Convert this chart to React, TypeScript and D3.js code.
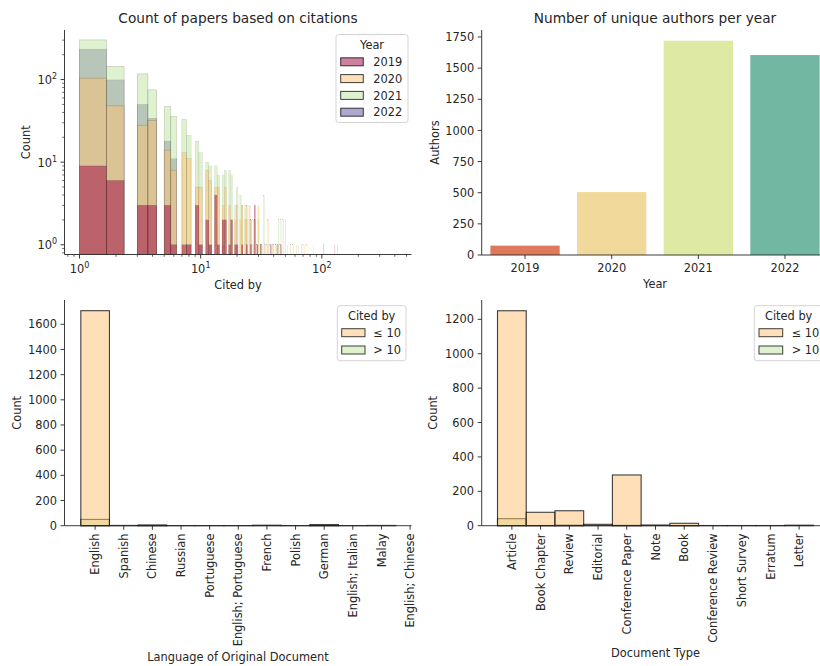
import React from 'react';
import * as d3 from 'd3';

const FONT = "'DejaVu Sans', sans-serif";
const INK = '#262626';
const TICK_FS = 11.4;
const TITLE_FS = 13.7;
const TICK_LEN = 4;
const MINOR_LEN = 2.3;

// ---------- Top-left: citations histogram (log-log) ----------
const yearLabels = ['2019', '2020', '2021', '2022'];
const yearColors = ['#9e0142', '#fdbf6f', '#bfe5a0', '#5e4fa2'];
const cites2019: [number, number][] = [
  [1, 9], [2, 6], [3, 3], [4, 3], [5, 3], [6, 1], [7, 1], [8, 1], [9, 3], [10, 1], [11, 2], [12, 1],
  [13, 4], [14, 1], [15, 2], [16, 2], [17, 1], [18, 2], [19, 1], [20, 1], [22, 1], [24, 1], [26, 1],
  [28, 3], [29, 1], [31, 1], [38, 1], [43, 1], [46, 1], [104, 1], [128, 1], [135, 1],
];
const cites2020: [number, number][] = [
  [1, 104], [2, 48], [3, 28], [4, 32], [5, 14], [6, 8], [7, 13], [8, 11], [9, 5], [10, 5], [11, 8],
  [12, 6], [13, 5], [14, 5], [15, 3], [16, 5], [17, 3], [18, 2], [19, 2], [20, 3], [21, 2], [22, 3],
  [23, 2], [24, 3], [25, 3], [26, 2], [27, 1], [28, 2], [30, 3], [32, 1], [34, 1], [36, 2], [39, 1],
  [42, 1], [45, 1], [48, 2], [50, 2], [55, 1], [62, 1], [68, 1], [72, 1], [85, 1], [130, 1],
];
const cites2021: [number, number][] = [
  [1, 302], [2, 144], [3, 117], [4, 75], [5, 47], [6, 36], [7, 33], [8, 21], [9, 18], [10, 13],
  [11, 10], [12, 9], [13, 9], [14, 7], [15, 7], [16, 8], [17, 8], [18, 7], [19, 3], [20, 5], [21, 4],
  [22, 3], [23, 3], [24, 2], [25, 2], [26, 2], [27, 2], [28, 2], [29, 1], [30, 2], [31, 1], [33, 4],
  [35, 1], [37, 1], [40, 1], [42, 1], [44, 2], [46, 2], [52, 1], [58, 1], [64, 1], [70, 1], [75, 1],
  [410, 1],
];
const cites2022: [number, number][] = [
  [1, 233], [2, 99], [3, 50], [4, 34], [5, 18], [6, 11], [8, 1], [10, 1], [12, 1], [15, 1],
];
const citesByYear = [cites2019, cites2020, cites2021, cites2022];
const BIN_START = 1;
const BIN_WIDTH = 2 / 3;

// ---------- Top-right: unique authors ----------
const authorYears = ['2019', '2020', '2021', '2022'];
const authorCounts = [75, 505, 1720, 1605];
const authorColors = ['#de7959', '#f0d99a', '#dee9a3', '#71b7a1'];
const authorTicks = [0, 250, 500, 750, 1000, 1250, 1500, 1750];

// ---------- Bottom: cited-by groups ----------
const citedGroups = ['\u2264 10', '> 10'];
const citedColors = ['#fdbf6f', '#bfe5a0'];

const languages = [
  'English', 'Spanish', 'Chinese', 'Russian', 'Portuguese', 'English; Portuguese',
  'French', 'Polish', 'German', 'English; Italian', 'Malay', 'English; Chinese',
];
const langLow = [1708, 2, 6, 1, 1, 1, 4, 1, 9, 1, 2, 0];
const langHigh = [50, 0, 1, 0, 0, 0, 0, 0, 1, 0, 0, 0];
const langTicks = [0, 200, 400, 600, 800, 1000, 1200, 1400, 1600];

const docTypes = [
  'Article', 'Book Chapter', 'Review', 'Editorial', 'Conference Paper', 'Note', 'Book',
  'Conference Review', 'Short Survey', 'Erratum', 'Letter',
];
const docLow = [1250, 78, 87, 8, 295, 4, 14, 1, 1, 1, 3];
const docHigh = [41, 1, 3, 0, 2, 0, 1, 0, 0, 0, 0];
const docTicks = [0, 200, 400, 600, 800, 1000, 1200];

function logTicks(lo: number, hi: number) {
  const major: number[] = [];
  const minor: number[] = [];
  for (let e = -1; e <= 3; e++) {
    for (let m = 1; m <= 9; m++) {
      const v = m * Math.pow(10, e);
      if (v >= lo && v <= hi) (m === 1 ? major : minor).push(v);
    }
  }
  return { major, minor };
}

function Pow10({ x, y, exp, anchor }: { x: number; y: number; exp: number; anchor: string }) {
  return (
    <text x={x} y={y} fontSize={TICK_FS} textAnchor={anchor} fill={INK}>
      10<tspan fontSize={8} dy={-5}>{exp}</tspan>
    </text>
  );
}

function Legend({ x0, x1, y0, y1, title, labels, colors, titleY, rowY0, rowStep, swX, swW, labX }: any) {
  return (
    <g>
      <rect x={x0} y={y0} width={x1 - x0} height={y1 - y0} rx={2.5} fill="#fff" fillOpacity={0.8} stroke="#d0d0d0" strokeWidth={0.9} />
      <text x={(x0 + x1) / 2} y={titleY + 4.1} textAnchor="middle" fontSize={TICK_FS} fill={INK}>{title}</text>
      {labels.map((l: string, i: number) => {
        const cy = rowY0 + i * rowStep;
        return (
          <g key={l}>
            <rect x={swX} y={cy - 4} width={swW} height={8} fill={colors[i]} fillOpacity={0.5} stroke="#000" strokeOpacity={0.75} strokeWidth={1} />
            <text x={labX} y={cy + 4.1} fontSize={TICK_FS} fill={INK}>{l}</text>
          </g>
        );
      })}
    </g>
  );
}

function TopLeft() {
  const L = 64.5, R = 411.5, T = 30, B = 254.5;
  const xDom: [number, number] = [Math.pow(10, -0.124), Math.pow(10, 2.74)];
  const yDom: [number, number] = [Math.pow(10, -0.118), Math.pow(10, 2.6)];
  const x = d3.scaleLog().domain(xDom).range([L, R]);
  const y = d3.scaleLog().domain(yDom).range([B, T]);
  const xt = logTicks(xDom[0], xDom[1]);
  const yt = logTicks(yDom[0], yDom[1]);
  const order = [3, 2, 1, 0];
  return (
    <g>
      <defs>
        <clipPath id="clipTL"><rect x={L} y={T} width={R - L} height={B - T} /></clipPath>
      </defs>
      <g clipPath="url(#clipTL)">
        {order.map((yi) => {
          const bins = new Map<number, number>();
          citesByYear[yi].forEach(([v, c]) => {
            const k = Math.floor((v - BIN_START) / BIN_WIDTH + 1e-9);
            bins.set(k, (bins.get(k) || 0) + c);
          });
          return (
            <g key={yi}>
              {Array.from(bins.entries()).map(([k, c]) => {
                const x0 = x(BIN_START + k * BIN_WIDTH);
                const x1 = x(BIN_START + (k + 1) * BIN_WIDTH);
                const yy = y(c);
                return (
                  <rect key={k} x={x0} y={yy} width={x1 - x0} height={B + 2 - yy}
                    fill={yearColors[yi]} fillOpacity={0.5}
                    stroke="#000" strokeOpacity={0.22} strokeWidth={Math.min(0.6, 0.08 * (x1 - x0))} />
                );
              })}
            </g>
          );
        })}
      </g>
      {/* spines */}
      <line x1={L} x2={L} y1={T} y2={B} stroke={INK} strokeWidth={0.9} />
      <line x1={L} x2={R} y1={B} y2={B} stroke={INK} strokeWidth={0.9} />
      {xt.minor.map((v) => <line key={'xm' + v} x1={x(v)} x2={x(v)} y1={B} y2={B + MINOR_LEN} stroke={INK} strokeWidth={0.7} />)}
      {xt.major.map((v) => (
        <g key={'xM' + v}>
          <line x1={x(v)} x2={x(v)} y1={B} y2={B + TICK_LEN} stroke={INK} strokeWidth={0.9} />
          <Pow10 x={x(v)} y={272.5} exp={Math.round(Math.log10(v))} anchor="middle" />
        </g>
      ))}
      {yt.minor.map((v) => <line key={'ym' + v} x1={L} x2={L - MINOR_LEN} y1={y(v)} y2={y(v)} stroke={INK} strokeWidth={0.7} />)}
      {yt.major.map((v) => (
        <g key={'yM' + v}>
          <line x1={L} x2={L - TICK_LEN} y1={y(v)} y2={y(v)} stroke={INK} strokeWidth={0.9} />
          <Pow10 x={L - 7.5} y={y(v) + 4.5} exp={Math.round(Math.log10(v))} anchor="end" />
        </g>
      ))}
      <text x={(L + R) / 2} y={23.2} textAnchor="middle" fontSize={TITLE_FS} fill={INK}>Count of papers based on citations</text>
      <text x={(L + R) / 2} y={289} textAnchor="middle" fontSize={TICK_FS} fill={INK}>Cited by</text>
      <text transform={`translate(29.8, ${(T + B) / 2}) rotate(-90)`} textAnchor="middle" fontSize={TICK_FS} fill={INK}>Count</text>
      <Legend x0={336} x1={408} y0={34.5} y1={122.5} title="Year" labels={yearLabels} colors={yearColors}
        titleY={45} rowY0={61.8} rowStep={16.8} swX={340.7} swW={22.6} labX={373.3} />
    </g>
  );
}

function TopRight() {
  const L = 481.7, R = 828.3, T = 30, B = 255;
  const x = d3.scaleBand<string>().domain(authorYears).range([L, R]).paddingInner(0.2).paddingOuter(0.1);
  const y = d3.scaleLinear().domain([0, 1806]).range([B, T]);
  return (
    <g>
      {authorYears.map((yr, i) => (
        <rect key={yr} x={x(yr)} y={y(authorCounts[i])} width={x.bandwidth()} height={B - y(authorCounts[i])} fill={authorColors[i]} />
      ))}
      <line x1={L} x2={L} y1={T} y2={B} stroke={INK} strokeWidth={0.9} />
      <line x1={L} x2={R} y1={B} y2={B} stroke={INK} strokeWidth={0.9} />
      {authorTicks.map((t) => (
        <g key={t}>
          <line x1={L} x2={L - TICK_LEN} y1={y(t)} y2={y(t)} stroke={INK} strokeWidth={0.9} />
          <text x={L - 7.5} y={y(t) + 4.1} textAnchor="end" fontSize={TICK_FS} fill={INK}>{t}</text>
        </g>
      ))}
      {authorYears.map((yr) => {
        const cx = (x(yr) as number) + x.bandwidth() / 2;
        return (
          <g key={yr}>
            <line x1={cx} x2={cx} y1={B} y2={B + TICK_LEN} stroke={INK} strokeWidth={0.9} />
            <text x={cx} y={272.2} textAnchor="middle" fontSize={TICK_FS} fill={INK}>{yr}</text>
          </g>
        );
      })}
      <text x={(L + R) / 2} y={23.2} textAnchor="middle" fontSize={TITLE_FS} fill={INK}>Number of unique authors per year</text>
      <text x={(L + R) / 2} y={288.2} textAnchor="middle" fontSize={TICK_FS} fill={INK}>Year</text>
      <text transform={`translate(439.1, ${(T + B) / 2}) rotate(-90)`} textAnchor="middle" fontSize={TICK_FS} fill={INK}>Authors</text>
    </g>
  );
}

function CatHist({ id, L, R, xDom, yMax, cats, low, high, ticks, tickLabX, xlabel, xlabelY, ylabelX, legend }: any) {
  const T = 300, B = 525.7;
  const x = d3.scaleLinear().domain(xDom).range([L, R]);
  const y = d3.scaleLinear().domain([0, yMax]).range([B, T]);
  const series = [high, low];
  const cols = [citedColors[1], citedColors[0]];
  return (
    <g>
      <defs>
        <clipPath id={id}><rect x={L} y={T - 2} width={R - L} height={B - T + 4} /></clipPath>
      </defs>
      <g clipPath={`url(#${id})`}>
        {series.map((vals: number[], si: number) => (
          <g key={si}>
            {vals.map((v, i) => v > 0 ? (
              <rect key={i} x={x(i - 0.5)} y={y(v)} width={x(i + 0.5) - x(i - 0.5)} height={B - y(v)}
                fill={cols[si]} fillOpacity={0.5} stroke="#111" strokeOpacity={0.8} strokeWidth={1.1} />
            ) : null)}
          </g>
        ))}
      </g>
      <line x1={L} x2={L} y1={T} y2={B} stroke={INK} strokeWidth={0.9} />
      <line x1={L} x2={R} y1={B} y2={B} stroke={INK} strokeWidth={0.9} />
      {ticks.map((t: number) => (
        <g key={t}>
          <line x1={L} x2={L - TICK_LEN} y1={y(t)} y2={y(t)} stroke={INK} strokeWidth={0.9} />
          <text x={tickLabX} y={y(t) + 4.1} textAnchor="end" fontSize={TICK_FS} fill={INK}>{t}</text>
        </g>
      ))}
      {cats.map((c: string, i: number) => (
        <g key={c}>
          <line x1={x(i)} x2={x(i)} y1={B} y2={B + TICK_LEN} stroke={INK} strokeWidth={0.9} />
          <text transform={`translate(${x(i) + 4.1}, ${B + 7.8}) rotate(-90)`} textAnchor="end" fontSize={TICK_FS} fill={INK}>{c}</text>
        </g>
      ))}
      <text x={(L + R) / 2} y={xlabelY} textAnchor="middle" fontSize={TICK_FS} fill={INK}>{xlabel}</text>
      <text transform={`translate(${ylabelX}, ${(T + B) / 2}) rotate(-90)`} textAnchor="middle" fontSize={TICK_FS} fill={INK}>Count</text>
      <Legend {...legend} title="Cited by" labels={citedGroups} colors={citedColors} titleY={315.7} rowY0={332.7} rowStep={17.3} y0={305.7} y1={360.7} />
    </g>
  );
}

export default function App() {
  return (
    <svg width={820} height={666} style={{ position: 'absolute', left: 0, top: 0, background: '#fff' }} fontFamily={FONT}>
      <rect x={0} y={0} width={820} height={666} fill="#fff" />
      <TopLeft />
      <TopRight />
      <CatHist id="clipBL" L={64.5} R={411.5} xDom={[-1.07, 11.05]} yMax={1793} cats={languages}
        low={langLow} high={langHigh} ticks={langTicks} tickLabX={57} xlabel="Language of Original Document"
        xlabelY={660.8} ylabelX={20.8}
        legend={{ x0: 337.3, x1: 406, swX: 341.7, swW: 23.3, labX: 373.3 }} />
      <CatHist id="clipBR" L={481.7} R={829.3} xDom={[-1.05, 11.05]} yMax={1312.5} cats={docTypes}
        low={docLow} high={docHigh} ticks={docTicks} tickLabX={474} xlabel="Document Type"
        xlabelY={657} ylabelX={437.4}
        legend={{ x0: 754.3, x1: 823, swX: 759, swW: 23.7, labX: 791.7 }} />
    </svg>
  );
}
